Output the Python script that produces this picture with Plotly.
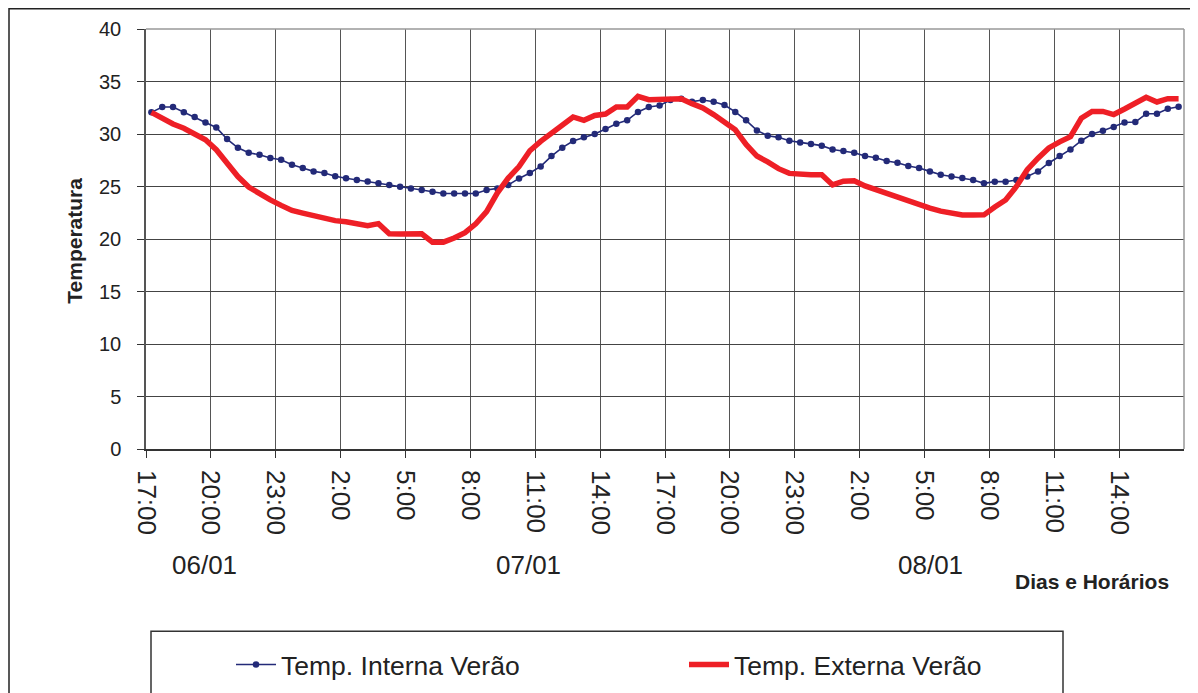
import plotly.graph_objects as go
import pandas as pd

# Sampling: half-hour readings starting 06/01 17:15
times = pd.date_range("2000-01-06 17:15", periods=96, freq="30min")

temp_interna = [
    32.06, 32.57, 32.57, 32.06, 31.62, 31.10, 30.62, 29.52, 28.69, 28.21,
    28.02, 27.71, 27.55, 27.07, 26.76, 26.44, 26.29, 25.97, 25.78, 25.63,
    25.47, 25.30, 25.15, 24.98, 24.82, 24.67, 24.50, 24.34, 24.34, 24.34,
    24.34, 24.67, 24.82, 25.14, 25.77, 26.29, 26.91, 27.90, 28.70, 29.33,
    29.68, 30.00, 30.48, 30.98, 31.30, 32.10, 32.57, 32.72, 33.24, 33.36,
    33.08, 33.24, 33.08, 32.76, 32.10, 31.30, 30.34, 29.84, 29.68, 29.36,
    29.20, 29.05, 28.89, 28.53, 28.38, 28.22, 27.90, 27.74, 27.43, 27.27,
    26.95, 26.76, 26.44, 26.12, 25.96, 25.81, 25.62, 25.30, 25.46, 25.46,
    25.62, 25.96, 26.44, 27.24, 27.90, 28.53, 29.36, 30.00, 30.31, 30.67,
    31.10, 31.14, 31.93, 31.93, 32.41, 32.60,
]

temp_externa = [
    32.06, 31.50, 30.95, 30.55, 30.03, 29.45, 28.50, 27.20, 25.95, 24.95,
    24.30, 23.72, 23.20, 22.72, 22.47, 22.22, 21.90, 21.75, 21.65, 21.45,
    21.27, 21.46, 20.50, 20.48, 20.50, 20.50, 19.70, 19.70, 20.10, 20.60,
    21.45, 22.60, 24.40, 25.80, 26.90, 28.40, 29.30, 30.10, 30.95, 31.62,
    31.30, 31.77, 31.90, 32.57, 32.57, 33.58, 33.27, 33.33, 33.43, 33.36,
    32.89, 32.48, 31.85, 31.20, 30.40, 29.00, 27.90, 27.35, 26.70, 26.25,
    26.12, 26.12, 26.12, 25.15, 25.50, 25.55, 25.05, 24.70, 24.25, 23.90,
    23.58, 23.28, 22.95, 22.65, 22.48, 22.28, 22.28, 22.30, 23.05, 23.72,
    25.00, 26.60, 27.70, 28.67, 29.25, 29.75, 31.50, 32.15, 32.15, 31.85,
    32.38, 32.90, 33.50, 33.05, 33.36, 33.36,
]

tick_labels = ["17:00", "20:00", "23:00", "2:00", "5:00", "8:00", "11:00", "14:00",
               "17:00", "20:00", "23:00", "2:00", "5:00", "8:00", "11:00", "14:00"]
tick_times = pd.date_range("2000-01-06 17:00", periods=16, freq="3h")
day_labels = ["06/01", "07/01", "08/01"]
y_ticks = [0, 5, 10, 15, 20, 25, 30, 35, 40]

BLUE = "#232a78"
RED = "#ee1f26"
FONT = "Liberation Sans, Arial, sans-serif"

# screen px -> paper coords (plot area spans x 146..1184, y 29.3..449.3 on screen)
def px(X):
    return (X - 146) / 1038

def py(Y):
    return (449.3 - Y) / 420

fig = go.Figure()
fig.add_trace(go.Scatter(
    x=times, y=temp_interna, name="Temp. Interna Verão",
    mode="lines+markers", line=dict(color=BLUE, width=1.6),
    marker=dict(color=BLUE, size=6.5), legend="legend",
))
fig.add_trace(go.Scatter(
    x=times, y=temp_externa, name="Temp. Externa Verão",
    mode="lines", line=dict(color=RED, width=5.5), legend="legend2",
))

fig.update_layout(
    width=1190, height=685,
    margin=dict(l=138, r=14, t=21.3, b=243.7, autoexpand=False),
    paper_bgcolor="white", plot_bgcolor="white",
    font=dict(family=FONT, color="#222"),
    xaxis=dict(
        range=[pd.Timestamp("2000-01-06 17:00"), pd.Timestamp("2000-01-08 17:00")],
        tickvals=tick_times, ticktext=tick_labels, tickangle=90,
        tickfont=dict(size=26, color="#222", family=FONT),
        showgrid=True, gridcolor="#555", gridwidth=1,
        showline=True, linecolor="#333", linewidth=1.5,
        ticks="outside", ticklen=7, tickcolor="#333",
        ticklabelstandoff=7,
        mirror=False, zeroline=False,
    ),
    yaxis=dict(
        range=[0, 40], tickvals=y_ticks,
        tickfont=dict(size=20, color="#222", family=FONT),
        showgrid=True, gridcolor="#444", gridwidth=1,
        showline=True, linecolor="#555", linewidth=1.5,
        ticks="outside", ticklen=7, tickcolor="#333",
        ticklabelstandoff=12,
        zeroline=False,
    ),
    showlegend=True,
    legend=dict(
        x=px(231), y=py(665), xanchor="left", yanchor="middle",
        font=dict(size=26.5, color="#222", family=FONT), bgcolor="rgba(0,0,0,0)",
        itemwidth=40,
    ),
    legend2=dict(
        x=px(684), y=py(665), xanchor="left", yanchor="middle",
        font=dict(size=26.5, color="#222", family=FONT), bgcolor="rgba(0,0,0,0)",
        itemwidth=40,
    ),
)

# plot-area border (top & right, gray)
fig.add_shape(type="line", xref="paper", yref="paper", x0=0, x1=1, y0=1, y1=1,
              line=dict(color="#999", width=1.5))
fig.add_shape(type="line", xref="paper", yref="paper", x0=1, x1=1, y0=0, y1=1,
              line=dict(color="#999", width=1.5))
# outer chart frame
fig.add_shape(type="rect", xref="paper", yref="paper",
              x0=px(9), x1=px(1215), y0=py(720), y1=py(9),
              line=dict(color="#222", width=1.5), layer="below")
# legend frame
fig.add_shape(type="rect", xref="paper", yref="paper",
              x0=px(151), x1=px(1063), y0=py(720), y1=py(631.5),
              line=dict(color="#333", width=1.5), layer="below")

day_x = [204, 528, 930]
for lab, X in zip(day_labels, day_x):
    fig.add_annotation(text=lab, xref="paper", yref="paper",
                       x=px(X), y=py(565),
                       showarrow=False, xanchor="center", yanchor="middle",
                       font=dict(size=26, color="#222", family=FONT))

fig.add_annotation(text="<b>Dias e Horários</b>", xref="paper", yref="paper",
                   x=px(1092), y=py(582),
                   showarrow=False, xanchor="center", yanchor="middle",
                   font=dict(size=21, color="#222", family=FONT))
fig.add_annotation(text="<b>Temperatura</b>", xref="paper", yref="paper",
                   x=px(75), y=py(241), textangle=-90,
                   showarrow=False, xanchor="center", yanchor="middle",
                   font=dict(size=21, color="#222", family=FONT))

fig.write_html("out.html")
